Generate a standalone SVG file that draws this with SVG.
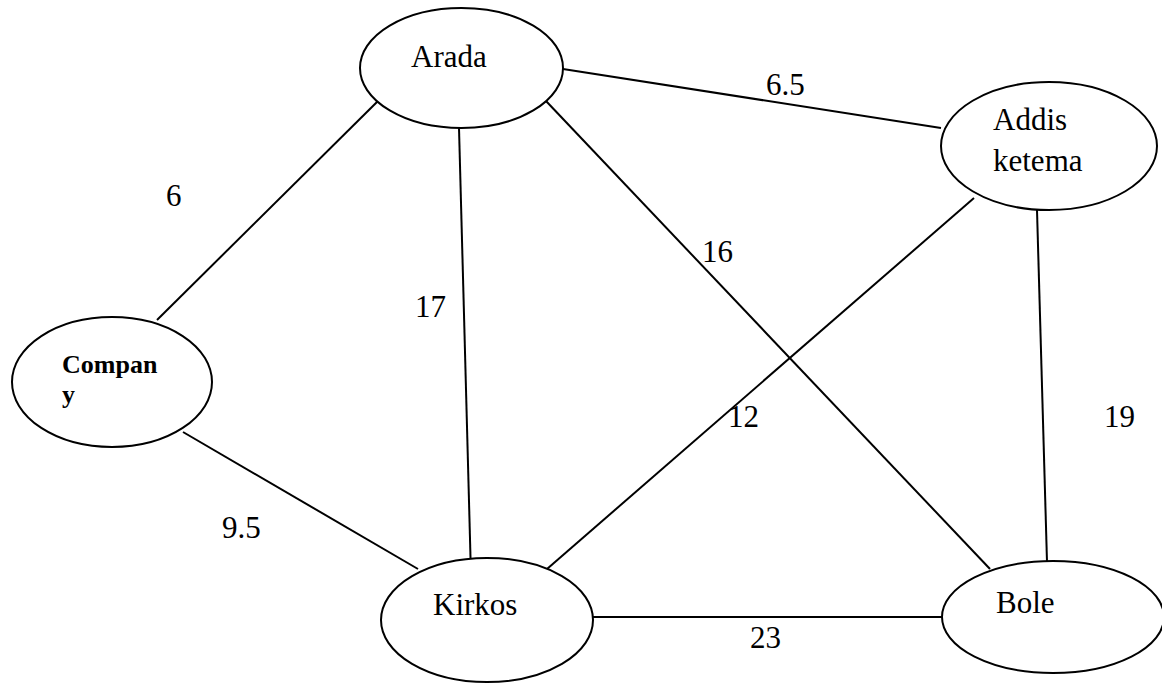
<svg xmlns="http://www.w3.org/2000/svg" width="1162" height="683" viewBox="0 0 1162 683">
  <style>
    .node ellipse { fill: #ffffff; stroke: #000000; stroke-width: 2; }
    .edges line { stroke: #000000; stroke-width: 2; }
    text { fill: #000000; }
  </style>
  <rect x="0" y="0" width="1162" height="683" fill="#ffffff"/>

  <!-- road links between sub-cities -->
  <g id="connectors" class="edges">
    <line x1="563" y1="69" x2="941" y2="128"/>
    <line x1="379" y1="100" x2="157" y2="320"/>
    <line x1="459" y1="128" x2="471" y2="576"/>
    <line x1="546" y1="101" x2="990" y2="569"/>
    <line x1="183" y1="432" x2="418" y2="569"/>
    <line x1="974" y1="198" x2="547" y2="569"/>
    <line x1="1037" y1="210" x2="1047" y2="562"/>
    <line x1="593" y1="617" x2="942" y2="617"/>
  </g>

  <!-- distances -->
  <g id="weights" font-family="Liberation Serif, Tinos, Times New Roman, DejaVu Serif, serif" font-size="31">
    <text x="166" y="206">6</text>
    <text x="766" y="95">6.5</text>
    <text x="415" y="317">17</text>
    <text x="702" y="262">16</text>
    <text x="728" y="427">12</text>
    <text x="1104" y="427">19</text>
    <text x="222" y="538">9.5</text>
    <text x="750" y="648">23</text>
  </g>

  <g id="arada" class="node" font-family="Liberation Serif, Tinos, Times New Roman, DejaVu Serif, serif" font-size="31">
    <ellipse cx="461.5" cy="68" rx="101.5" ry="60"/>
    <text x="411" y="67">Arada</text>
  </g>

  <g id="addis-ketema" class="node" font-family="Liberation Serif, Tinos, Times New Roman, DejaVu Serif, serif" font-size="31">
    <ellipse cx="1049" cy="146" rx="108" ry="64"/>
    <text x="993" y="130">Addis</text>
    <text x="993" y="171">ketema</text>
  </g>

  <g id="company" class="node" font-family="Liberation Serif, Tinos, Times New Roman, DejaVu Serif, serif" font-size="26" font-weight="bold">
    <ellipse cx="112" cy="382" rx="100" ry="65"/>
    <text x="62" y="373">Compan</text>
    <text x="62" y="403">y</text>
  </g>

  <g id="kirkos" class="node" font-family="Liberation Serif, Tinos, Times New Roman, DejaVu Serif, serif" font-size="31">
    <ellipse cx="487" cy="620" rx="106" ry="62"/>
    <text x="433" y="615">Kirkos</text>
  </g>

  <g id="bole" class="node" font-family="Liberation Serif, Tinos, Times New Roman, DejaVu Serif, serif" font-size="31">
    <ellipse cx="1053" cy="617" rx="111" ry="56"/>
    <text x="996" y="613">Bole</text>
  </g>
</svg>
